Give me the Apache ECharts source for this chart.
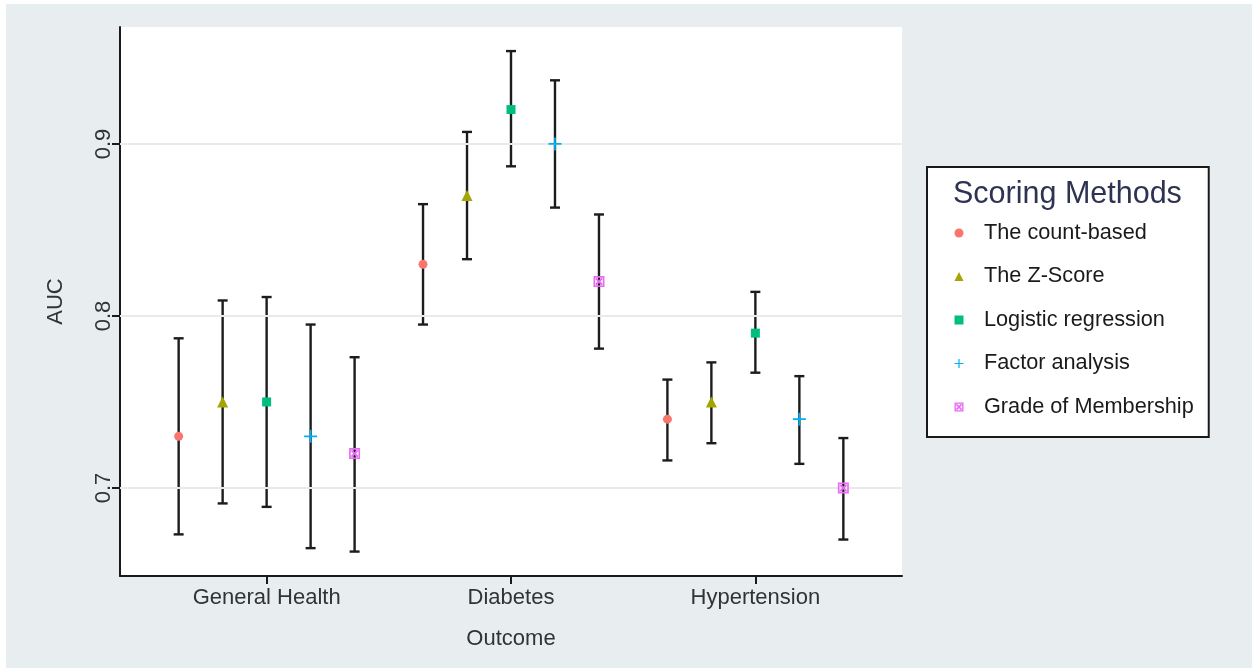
<!DOCTYPE html>
<html><head><meta charset="utf-8">
<script src="https://cdn.jsdelivr.net/npm/echarts@6/dist/echarts.min.js"></script>
<style>
html,body{margin:0;padding:0;background:#fff;}
#bg{position:absolute;left:6px;top:4px;width:1246px;height:664px;background:#e8eef0;}
#chart{position:absolute;left:0;top:0;width:1252px;height:668px;}
</style></head><body><div id="bg"></div><div id="chart"></div>
<script>
const outcomes = ['General Health', 'Diabetes', 'Hypertension'];
const methods = ['The count-based', 'The Z-Score', 'Logistic regression', 'Factor analysis', 'Grade of Membership'];
const aucCountBased = [0.73, 0.83, 0.74];
const lowerCountBased = [0.673, 0.795, 0.716];
const upperCountBased = [0.787, 0.865, 0.763];
const aucZScore = [0.75, 0.87, 0.75];
const lowerZScore = [0.691, 0.833, 0.726];
const upperZScore = [0.809, 0.907, 0.773];
const aucLogistic = [0.75, 0.92, 0.79];
const lowerLogistic = [0.689, 0.887, 0.767];
const upperLogistic = [0.811, 0.954, 0.814];
const aucFactor = [0.73, 0.90, 0.74];
const lowerFactor = [0.665, 0.863, 0.714];
const upperFactor = [0.795, 0.937, 0.765];
const aucGoM = [0.72, 0.82, 0.70];
const lowerGoM = [0.663, 0.781, 0.670];
const upperGoM = [0.776, 0.859, 0.729];
const yTicks = [0.7, 0.8, 0.9];

const methodData = [
  {auc: aucCountBased, lo: lowerCountBased, hi: upperCountBased},
  {auc: aucZScore, lo: lowerZScore, hi: upperZScore},
  {auc: aucLogistic, lo: lowerLogistic, hi: upperLogistic},
  {auc: aucFactor, lo: lowerFactor, hi: upperFactor},
  {auc: aucGoM, lo: lowerGoM, hi: upperGoM}
];
const colors = ['#F8766D', '#A3A500', '#00BF7D', '#00B0F6', '#E76BF3'];
const plusPath = 'path://M5.2,0h1.6v5.2h5.2v1.6h-5.2v5.2h-1.6v-5.2h-5.2v-1.6h5.2z';
const sqCrossPath = 'path://M0,0H20V20H0Z M3,3V17H17V3Z M3,5.5L5.5,3L17,14.5L14.5,17Z M17,5.5L5.5,17L3,14.5L14.5,3Z';
const symbols = ['circle', 'triangle', 'rect', plusPath, sqCrossPath];
const symbolSizes = [9, 11, 9, 13, 11];
const dodge = 0.18;
const FONT = '"Liberation Sans", Arial, Helvetica, sans-serif';

const ciData = [];
methodData.forEach((m, mi) => {
  outcomes.forEach((o, oi) => {
    ciData.push([oi + 1 + (mi - 2) * dodge, m.lo[oi], m.hi[oi]]);
  });
});

const series = [
  {
    type: 'line', data: [], silent: true, z: 1,
    markLine: {
      silent: true, symbol: 'none', label: {show: false},
      lineStyle: {color: '#e9eaeb', width: 2, type: 'solid'},
      data: yTicks.map(v => ({yAxis: v}))
    }
  },
  {
    type: 'custom', name: 'ci', z: 3, silent: true,
    data: ciData,
    encode: {x: 0, y: [1, 2]},
    renderItem: function (params, api) {
      const x = api.value(0), lo = api.value(1), hi = api.value(2);
      const top = api.coord([x, hi]), bot = api.coord([x, lo]);
      const hw = 5;
      const style = {stroke: '#1c1c1c', lineWidth: 2.4, fill: null};
      return {type: 'group', children: [
        {type: 'line', shape: {x1: top[0], y1: top[1], x2: bot[0], y2: bot[1]}, style: style},
        {type: 'line', shape: {x1: top[0] - hw, y1: top[1], x2: top[0] + hw, y2: top[1]}, style: style},
        {type: 'line', shape: {x1: bot[0] - hw, y1: bot[1], x2: bot[0] + hw, y2: bot[1]}, style: style}
      ]};
    }
  }
];
methodData.forEach((m, mi) => {
  series.push({
    type: 'scatter', name: methods[mi], z: 5,
    symbol: symbols[mi], symbolSize: symbolSizes[mi],
    itemStyle: {color: colors[mi], opacity: 1},
    data: outcomes.map((o, oi) => [oi + 1 + (mi - 2) * dodge, m.auc[oi]])
  });
});

const chart = echarts.init(document.getElementById('chart'), null, {renderer: 'canvas'});
chart.setOption({
  backgroundColor: 'transparent',
  animation: false,
  title: {
    text: 'Scoring Methods', left: 953, top: 179, padding: 0,
    textStyle: {fontSize: 30.5, fontWeight: 'normal', color: '#2e3352', fontFamily: FONT}
  },
  legend: {
    data: methods, orient: 'vertical', left: 927, top: 167,
    padding: [54, 15, 18, 27.5], itemGap: 19.5,
    itemWidth: 9, itemHeight: 9,
    backgroundColor: '#fff', borderColor: '#1a1a1a', borderWidth: 2, borderRadius: 0,
    selectedMode: false,
    textStyle: {fontSize: 21.7, color: '#1a1a1a', fontFamily: FONT, lineHeight: 24, padding: [0, 0, 0, 15.5]}
  },
  grid: {left: 120, right: 350, top: 27, bottom: 92, show: true, backgroundColor: '#fff', borderWidth: 0, containLabel: false},
  xAxis: {
    type: 'value', min: 0.4, max: 3.6,
    name: 'Outcome', nameLocation: 'middle', nameGap: 52,
    nameTextStyle: {fontSize: 22, color: '#333', fontFamily: FONT},
    axisLine: {show: true, lineStyle: {color: '#1a1a1a', width: 2}},
    axisTick: {show: true, customValues: [1, 2, 3], length: 8, lineStyle: {color: '#1a1a1a', width: 2}},
    axisLabel: {customValues: [1, 2, 3], margin: 11, fontSize: 22, color: '#333', fontFamily: FONT,
      formatter: v => outcomes[Math.round(v) - 1]},
    splitLine: {show: false}
  },
  yAxis: {
    type: 'value', min: 0.6488, max: 0.968,
    name: 'AUC', nameLocation: 'middle', nameGap: 53,
    nameTextStyle: {fontSize: 22, color: '#333', fontFamily: FONT},
    axisLine: {show: true, lineStyle: {color: '#1a1a1a', width: 2}},
    axisTick: {show: true, customValues: yTicks, length: 8, lineStyle: {color: '#1a1a1a', width: 2}},
    axisLabel: {customValues: yTicks, rotate: 90, margin: 5, fontSize: 22, color: '#333', fontFamily: FONT,
      formatter: v => v.toFixed(1)},
    splitLine: {show: false}
  },
  series: series
});
</script></body></html>
